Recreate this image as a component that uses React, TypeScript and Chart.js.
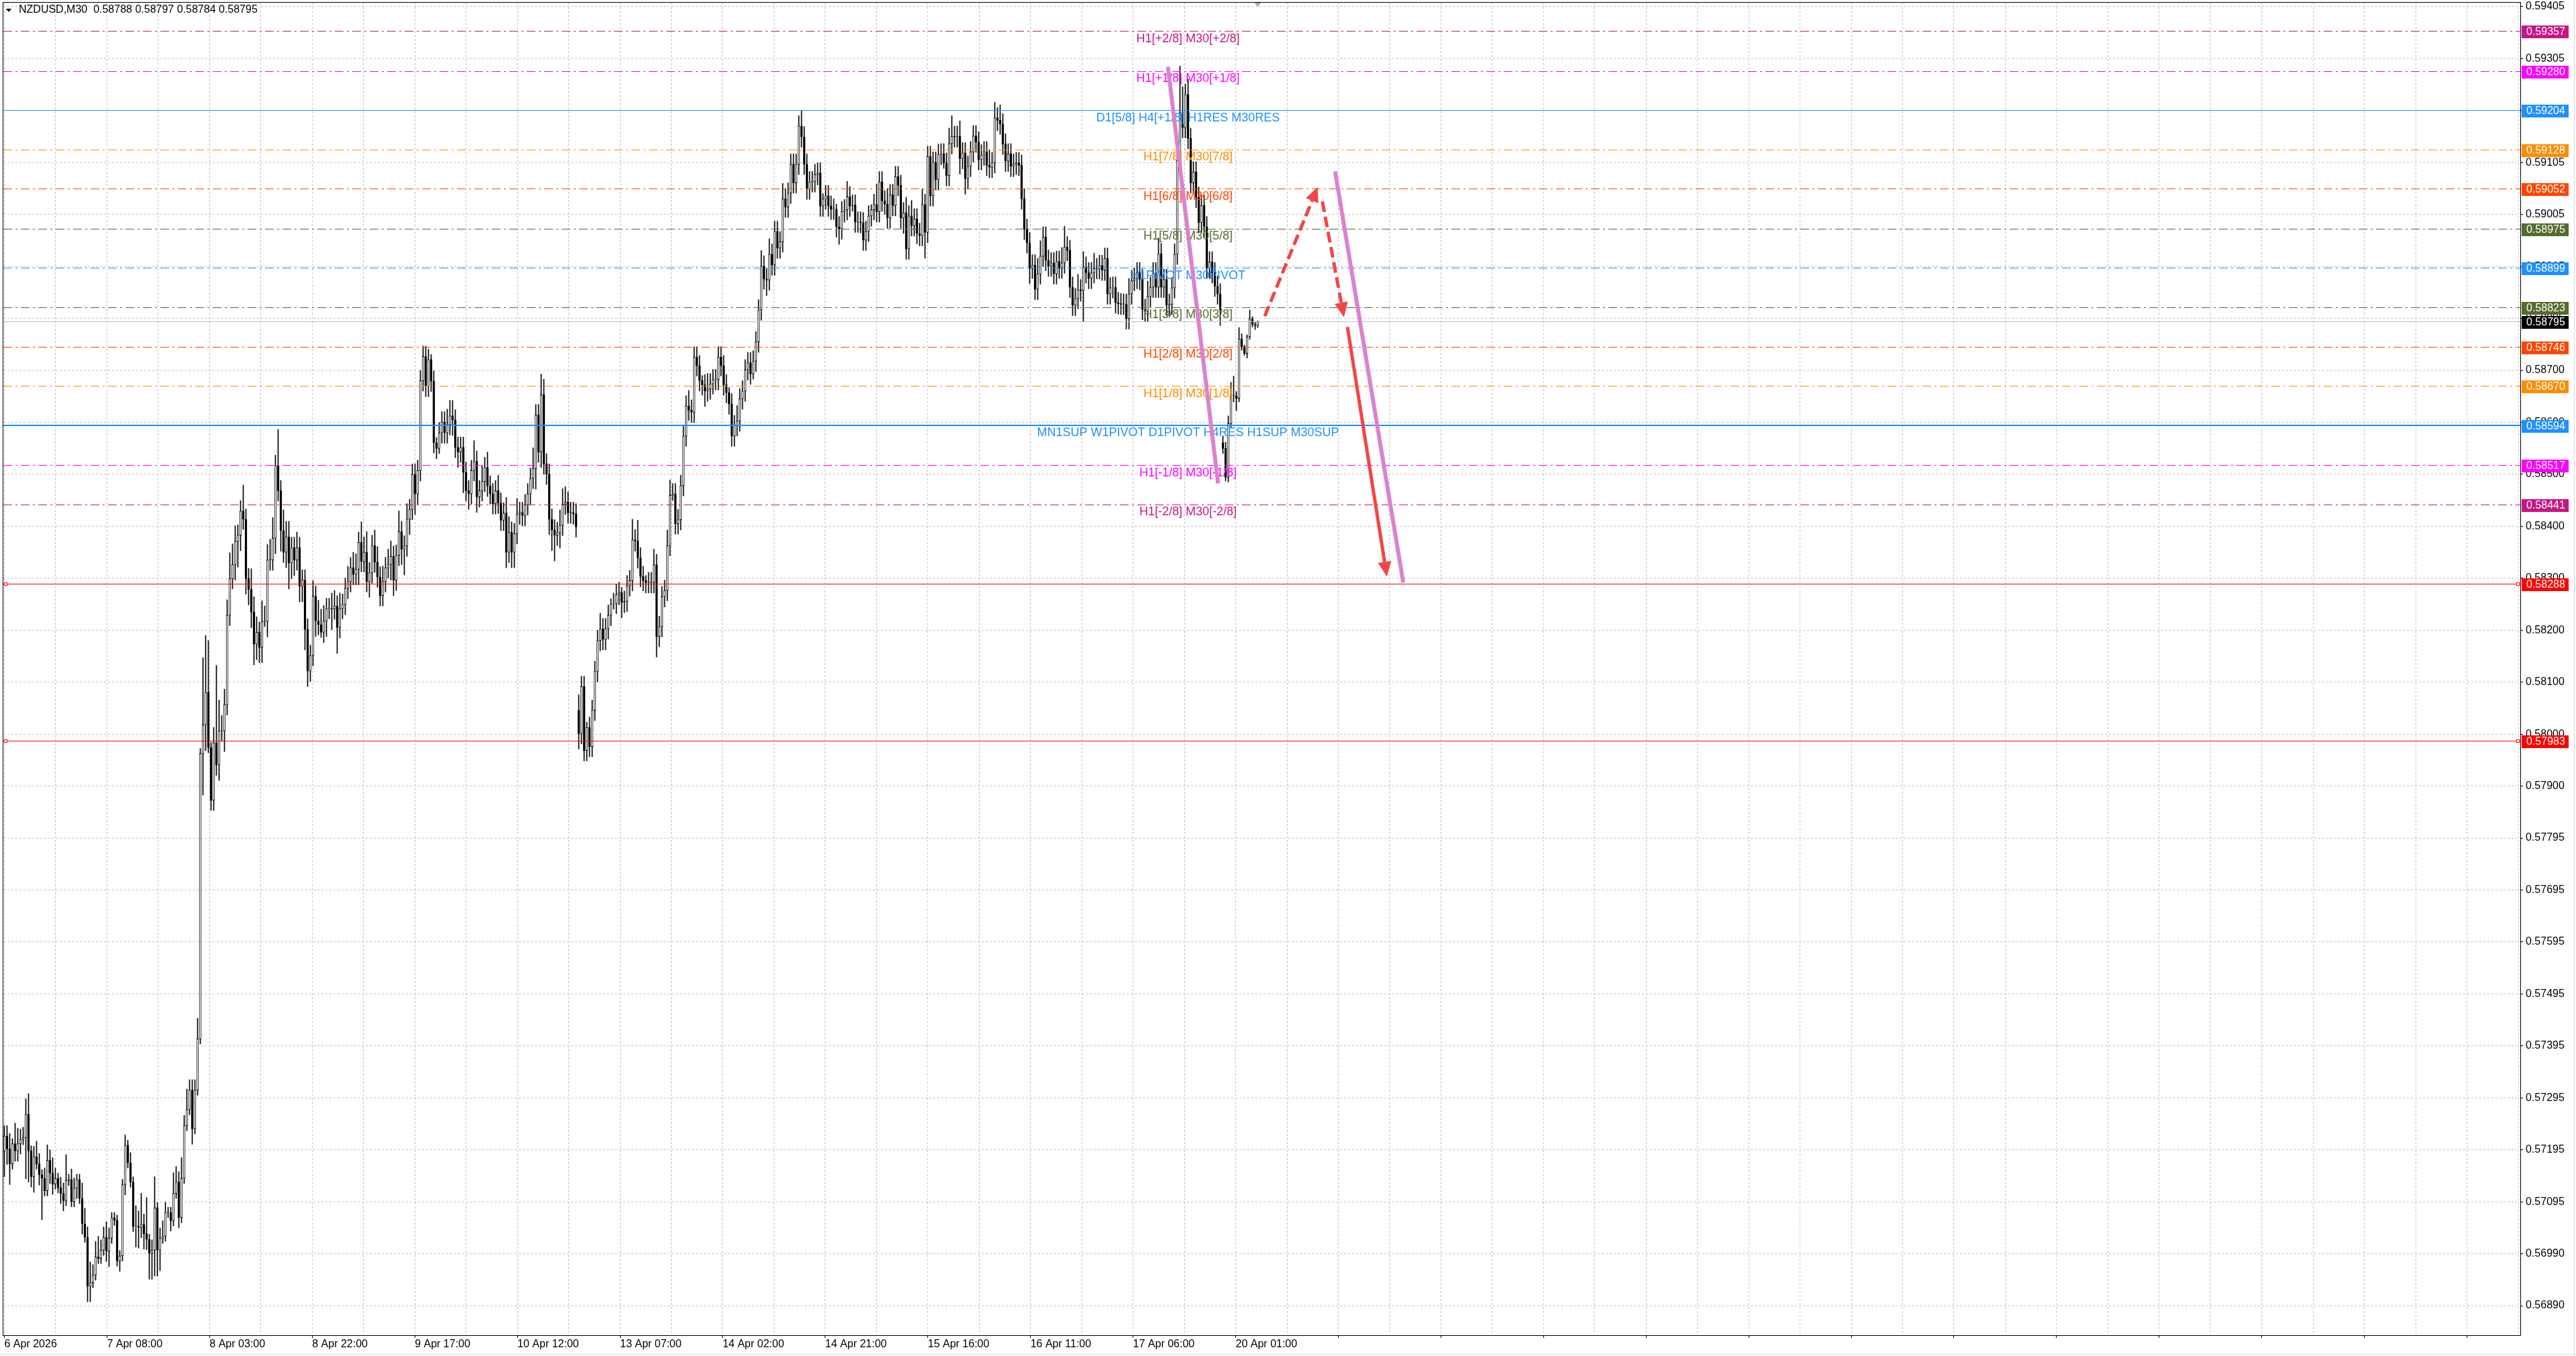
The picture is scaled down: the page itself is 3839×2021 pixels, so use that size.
import React, { useEffect, useRef } from "react";
import { Chart, registerables } from "chart.js";
Chart.register(...registerables);

const FONT = '"Liberation Sans", Arial, sans-serif';

// ---------------- DATA ----------------
const headerText = "NZDUSD,M30  0.58788 0.58797 0.58784 0.58795";
const xTickLabels = ["6 Apr 2026", "7 Apr 08:00", "8 Apr 03:00", "8 Apr 22:00", "9 Apr 17:00", "10 Apr 12:00", "13 Apr 07:00", "14 Apr 02:00", "14 Apr 21:00", "15 Apr 16:00", "16 Apr 11:00", "17 Apr 06:00", "20 Apr 01:00"];
const yTickLabels = ["0.59405", "0.59305", "0.59205", "0.59105", "0.59005", "0.58905", "0.58805", "0.58700", "0.58600", "0.58500", "0.58400", "0.58300", "0.58200", "0.58100", "0.58000", "0.57900", "0.57795", "0.57695", "0.57595", "0.57495", "0.57395", "0.57295", "0.57195", "0.57095", "0.56990", "0.56890"];

// prices in points above 0.50000 (1 point = 0.00001), wicks in pips (0.0001)
const week1Open = 7190;
const week1Closes = [
  7219, 7194, 7165, 7204, 7190, 7204, 7212, 7216, 7261, 7190,
  7140, 7179, 7165, 7144, 7137, 7113, 7172, 7147, 7126, 7137,
  7119, 7108, 7094, 7133, 7135, 7092, 7118, 7135, 7098, 7049,
  7023, 6928, 6935, 6950, 6985, 6982, 6998, 7023, 6996, 7021,
  7061, 7056, 6977, 6987, 7125, 7201, 7167, 7130, 7044, 7044,
  7042, 7048, 7030, 7019, 6992, 6998, 7080, 6998, 7021, 7025,
  7071, 7071, 7055, 7108, 7130, 7061, 7137, 7239, 7270, 7308,
  7233, 7308, 7407, 7959, 8015, 8078, 7971, 7869, 7980, 7937,
  8003, 8003, 8054, 8227, 8298, 8325, 8370, 8382, 8429, 8413,
  8298, 8277, 8233, 8171, 8194, 8165, 8215, 8215, 8334, 8334,
  8376, 8517, 8468, 8391, 8349, 8379, 8328, 8358, 8334, 8358,
  8283, 8295, 8200, 8119, 8149, 8264, 8216, 8209, 8194, 8216,
  8240, 8240, 8239, 8245, 8203, 8240, 8248, 8279, 8292, 8319,
  8306, 8316, 8368, 8331, 8349, 8292, 8309, 8362, 8330, 8301,
  8265, 8292, 8319, 8325, 8341, 8295, 8343, 8389, 8355, 8361,
  8413, 8432, 8500, 8462, 8507, 8681, 8728, 8670, 8722, 8680,
  8561, 8550, 8580, 8601, 8580, 8596, 8613, 8605, 8552, 8543,
  8552, 8504, 8468, 8462, 8507, 8525, 8456, 8468, 8486, 8513,
  8477, 8462, 8443, 8468, 8444, 8411, 8425, 8349, 8388, 8349,
  8385, 8423, 8426, 8420, 8441, 8462, 8492, 8511, 8615, 8543,
  8654, 8520, 8500, 8413, 8392, 8382, 8387, 8401, 8442, 8446,
  8425, 8426, 8423, 8398,
];
const week1WickUp = [
  2, 2, 3, 1, 4, 3, 2, 2, 3, 4, 1, 2, 3, 2, 1, 2, 3, 2, 3, 2,
  1, 2, 2, 5, 1, 2, 2, 1, 1, 3, 3, 2, 4, 2, 3, 4, 2, 2, 3, 2,
  1, 1, 1, 1, 1, 2, 1, 2, 1, 4, 3, 6, 2, 7, 1, 2, 6, 1, 2, 3,
  2, 1, 1, 4, 3, 2, 4, 2, 4, 2, 2, 2, 4, 1, 13, 11, 10, 1, 3, 15,
  6, 3, 3, 3, 5, 4, 3, 2, 2, 5, 2, 2, 4, 3, 3, 2, 4, 3, 3, 4,
  4, 2, 7, 2, 4, 3, 3, 2, 2, 3, 2, 2, 2, 2, 2, 3, 2, 4, 3, 3,
  2, 2, 3, 3, 2, 3, 2, 2, 3, 2, 3, 3, 2, 4, 3, 4, 2, 2, 3, 3,
  2, 3, 2, 3, 3, 2, 2, 4, 2, 2, 3, 2, 2, 2, 2, 2, 2, 2, 2, 1,
  2, 1, 2, 2, 2, 3, 3, 3, 2, 2, 2, 2, 2, 2, 2, 4, 2, 2, 3, 2,
  3, 2, 2, 2, 3, 2, 2, 3, 3, 2, 2, 3, 2, 2, 2, 2, 2, 4, 2, 2,
  4, 3, 2, 2, 2, 2, 2, 3, 3, 3, 2, 2, 2, 2,
];
const week1WickDown = [
  5, 3, 4, 1, 2, 2, 2, 1, 8, 6, 2, 3, 1, 2, 8, 1, 1, 2, 2, 1,
  1, 2, 2, 1, 1, 1, 1, 2, 1, 2, 1, 3, 3, 1, 1, 1, 1, 1, 2, 3,
  1, 1, 1, 2, 1, 2, 1, 1, 1, 4, 4, 2, 3, 2, 5, 5, 5, 5, 4, 1,
  1, 1, 2, 1, 1, 2, 1, 1, 1, 1, 3, 1, 1, 1, 8, 5, 1, 2, 2, 2,
  3, 2, 4, 2, 2, 2, 3, 5, 3, 2, 3, 3, 3, 4, 3, 3, 3, 1, 3, 2,
  2, 3, 2, 4, 2, 3, 5, 3, 3, 2, 3, 3, 4, 3, 2, 2, 3, 2, 1, 2,
  3, 2, 4, 2, 5, 2, 2, 2, 2, 2, 2, 2, 3, 2, 2, 2, 3, 2, 2, 2,
  2, 2, 2, 2, 3, 3, 2, 2, 3, 5, 2, 3, 2, 4, 2, 2, 2, 2, 2, 2,
  2, 2, 1, 2, 2, 2, 2, 3, 2, 3, 2, 4, 2, 3, 2, 2, 3, 2, 2, 2,
  2, 2, 2, 2, 2, 2, 2, 3, 2, 3, 3, 2, 2, 2, 2, 2, 2, 2, 4, 2,
  3, 2, 2, 3, 4, 5, 2, 3, 2, 2, 2, 2, 2, 2,
];

const week2Open = 8043;
const week2Closes = [
  7998, 8089, 7965, 8010, 7973, 8043, 8118, 8178, 8201, 8180,
  8201, 8227, 8249, 8250, 8267, 8271, 8252, 8254, 8284, 8294,
  8373, 8371, 8338, 8302, 8294, 8290, 8290, 8290, 8325, 8186,
  8205, 8263, 8275, 8362, 8459, 8462, 8404, 8412, 8478, 8574,
  8632, 8624, 8620, 8727, 8710, 8681, 8673, 8661, 8665, 8675,
  8683, 8683, 8727, 8710, 8673, 8658, 8636, 8574, 8594, 8603,
  8646, 8661, 8702, 8716, 8694, 8719, 8756, 8818, 8903, 8878,
  8876, 8926, 8905, 8970, 8938, 8950, 9033, 9017, 9044, 9100,
  9064, 9100, 9174, 9153, 9100, 9052, 9066, 9066, 9080, 9083,
  9019, 9033, 9039, 9019, 9013, 9013, 8979, 8975, 9008, 9012,
  9037, 9019, 9021, 8988, 8988, 8987, 8953, 8970, 9000, 9012,
  9022, 9008, 9066, 9029, 9023, 8996, 9041, 9020, 9076, 9059,
  8996, 9006, 8936, 9000, 8981, 8994, 8966, 8962, 9022, 8968,
  9115, 9039, 9104, 9070, 9119, 9120, 9102, 9078, 9140, 9154,
  9153, 9154, 9111, 9122, 9072, 9096, 9124, 9155, 9143, 9109,
  9118, 9124, 9098, 9094, 9103, 9190, 9185, 9178, 9139, 9106,
  9120, 9096, 9100, 9103, 9098, 9033, 8974, 8948, 8899, 8905,
  8858, 8888, 8922, 8959, 8914, 8903, 8909, 8888, 8912, 8899,
  8909, 8940, 8933, 8862, 8827, 8840, 8857, 8855, 8901, 8890,
  8879, 8890, 8898, 8898, 8904, 8895, 8918, 8849, 8861, 8862,
  8832, 8830, 8829, 8829, 8801, 8849, 8875, 8879, 8890, 8877,
  8819, 8815, 8844, 8862, 8890, 8862, 8927, 8862, 8877, 8827,
  8829, 8861, 8926, 9107, 9200, 9171, 9235, 9150, 9064, 9085,
  9036, 8987, 9020, 8979, 8899, 8911, 8890, 8864, 8849, 8818,
];
const week2WickUp = [
  3, 2, 2, 1, 2, 2, 2, 2, 3, 2, 2, 2, 1, 2, 2, 2, 1, 2, 2, 2,
  4, 2, 4, 2, 2, 1, 2, 2, 3, 2, 2, 2, 2, 3, 3, 2, 2, 2, 2, 2,
  2, 3, 2, 2, 2, 2, 1, 2, 3, 2, 2, 2, 2, 2, 2, 2, 1, 2, 2, 3,
  2, 2, 2, 2, 2, 2, 2, 2, 3, 2, 2, 3, 2, 2, 2, 2, 3, 2, 2, 2,
  2, 2, 2, 3, 2, 2, 2, 2, 2, 2, 2, 1, 2, 2, 2, 2, 1, 2, 2, 2,
  3, 2, 2, 2, 2, 2, 2, 2, 2, 1, 2, 4, 2, 2, 2, 3, 2, 2, 2, 2,
  2, 2, 3, 2, 3, 2, 2, 2, 3, 2, 2, 2, 2, 2, 2, 2, 2, 2, 3, 4,
  2, 2, 3, 2, 2, 2, 2, 2, 2, 2, 2, 2, 2, 3, 2, 3, 2, 3, 2, 2,
  2, 2, 2, 2, 2, 2, 2, 2, 2, 2, 2, 3, 3, 2, 2, 2, 2, 2, 2, 2,
  3, 4, 2, 2, 2, 2, 3, 2, 3, 2, 2, 2, 3, 2, 2, 2, 2, 2, 2, 2,
  2, 2, 2, 2, 2, 3, 2, 2, 2, 2, 2, 2, 3, 2, 2, 2, 3, 2, 2, 2,
  2, 2, 2, 2, 9, 5, 2, 3, 2, 2, 2, 2, 2, 2, 2, 2, 2, 2, 2, 2,
];
const week2WickDown = [
  3, 2, 2, 2, 2, 2, 2, 2, 2, 2, 2, 2, 2, 1, 2, 2, 3, 2, 2, 2,
  2, 2, 2, 2, 2, 2, 2, 2, 2, 4, 2, 2, 2, 2, 2, 1, 2, 2, 2, 2,
  2, 2, 2, 2, 2, 2, 2, 3, 2, 2, 2, 2, 2, 2, 2, 2, 2, 2, 2, 2,
  2, 2, 2, 2, 2, 1, 2, 2, 2, 2, 3, 2, 2, 2, 2, 2, 2, 2, 2, 2,
  2, 2, 2, 2, 2, 2, 2, 2, 2, 2, 2, 2, 2, 2, 2, 2, 2, 3, 2, 2,
  2, 2, 1, 2, 2, 2, 2, 2, 2, 2, 2, 2, 2, 2, 2, 2, 2, 2, 2, 2,
  2, 3, 2, 2, 2, 2, 2, 2, 2, 5, 2, 2, 2, 2, 2, 2, 1, 2, 2, 2,
  2, 2, 3, 2, 3, 2, 2, 2, 2, 2, 2, 2, 2, 2, 2, 2, 2, 2, 2, 2,
  2, 2, 2, 2, 2, 2, 2, 2, 3, 2, 2, 2, 2, 2, 2, 2, 2, 2, 2, 2,
  2, 2, 2, 2, 2, 2, 2, 2, 6, 2, 2, 2, 2, 2, 2, 2, 2, 2, 2, 2,
  2, 2, 2, 2, 2, 2, 2, 2, 2, 2, 2, 2, 2, 2, 2, 2, 2, 2, 2, 2,
  2, 2, 2, 2, 2, 2, 2, 2, 2, 2, 2, 2, 2, 2, 2, 2, 2, 2, 2, 3,
];

const week3Open = 8561;
const week3Closes = [8550, 8494, 8598, 8652, 8652, 8647, 8762, 8747, 8734, 8766, 8801, 8790, 8788, 8795];
const week3WickUp = [1.3, 1.2, 1.5, 2.6, 3.8, 0.8, 2.2, 1, 0.3, 0.4, 1.7, 0.4, 0.5, 0.2];
const week3WickDown = [1, 0.7, 0.9, 0.8, 1.2, 2.4, 0.7, 0.7, 0.4, 0.9, 0.5, 0.5, 0.8, 0.4];

// horizontal levels
const levelPrices = [0.59357, 0.5928, 0.59204, 0.59128, 0.59052, 0.58975, 0.58899, 0.58823, 0.58746, 0.5867, 0.58594, 0.58517, 0.58441];
const levelNames = [
  "H1[+2/8] M30[+2/8]", "H1[+1/8] M30[+1/8]", "D1[5/8] H4[+1/8] H1RES M30RES", "H1[7/8] M30[7/8]",
  "H1[6/8] M30[6/8]", "H1[5/8] M30[5/8]", "H1PIVOT M30PIVOT", "H1[3/8] M30[3/8]", "H1[2/8] M30[2/8]",
  "H1[1/8] M30[1/8]", "MN1SUP W1PIVOT D1PIVOT H4RES H1SUP M30SUP", "H1[-1/8] M30[-1/8]", "H1[-2/8] M30[-2/8]",
];
const redLinePrices = [0.58288, 0.57983];
const currentPrice = 0.58795;

// drawn annotations: [bar index, price]
const pinkLine1 = [[433.5, 0.59289], [452.2, 0.58482]];
const pinkLine2 = [[495.8, 0.59086], [521.2, 0.5829]];
const dashedUpArrow = [[469.6, 0.58806], [489.3, 0.59056]];
const dashedDownArrow = [[491.05, 0.59028], [499.1, 0.58804]];
const solidDownArrow = [[500.4, 0.58785], [515.1, 0.58302]];

// ---------------- STYLE ----------------
const levelColors = ["#C71585", "#FF00FF", "#1E90FF", "#FF8C00", "#FF4500", "#556B2F", "#1E90FF", "#556B2F", "#FF4500", "#FF8C00", "#1E90FF", "#FF00FF", "#C71585"];
const levelSolid = [false, false, true, false, false, false, false, false, false, false, true, false, false];
const levelWidth = [1, 1, 1, 1, 1, 1, 1, 1, 1, 1, 2, 1, 1];
const DASHDOT = [13, 5, 3, 5];
const LEVEL_LABEL_X = 441;

const XMIN = -0.375;
const XMAX = 937.375;
const X_GRID_STEP = 19.115;
const PX_PER_UNIT = 76994;
const YMAX = 0.59405 + 6 / PX_PER_UNIT;
const YMIN = YMAX - 1986 / PX_PER_UNIT;
const Y_TICK_TOP = 0.59405;
const Y_TICK_STEP = 0.0010058;

const toPrice = (pts: number) => 0.5 + pts / 100000;

type Candle = { o: number; h: number; l: number; c: number };
function buildCandles(): Candle[] {
  const weeks = [
    { open: week1Open, closes: week1Closes, up: week1WickUp, dn: week1WickDown },
    { open: week2Open, closes: week2Closes, up: week2WickUp, dn: week2WickDown },
    { open: week3Open, closes: week3Closes, up: week3WickUp, dn: week3WickDown },
  ];
  const out: Candle[] = [];
  weeks.forEach((w) => {
    w.closes.forEach((c, j) => {
      const o = j === 0 ? w.open : w.closes[j - 1];
      const h = Math.max(o, c) + (w.up[j] ?? 2) * 10;
      const l = Math.min(o, c) - (w.dn[j] ?? 2) * 10;
      out.push({ o, h, l, c });
    });
  });
  return out;
}

function drawArrow(ctx: CanvasRenderingContext2D, x1: number, y1: number, x2: number, y2: number, dashed: boolean, color: string) {
  const ang = Math.atan2(y2 - y1, x2 - x1);
  const hl = 22, hw = 10;
  const cs = Math.cos(ang), sn = Math.sin(ang);
  const bx = x2 - hl * cs, by = y2 - hl * sn;
  ctx.strokeStyle = color;
  ctx.fillStyle = color;
  ctx.lineWidth = 5;
  ctx.lineCap = "butt";
  ctx.setLineDash(dashed ? [16, 7] : []);
  ctx.beginPath();
  ctx.moveTo(x1, y1);
  ctx.lineTo(bx, by);
  ctx.stroke();
  ctx.setLineDash([]);
  ctx.beginPath();
  ctx.moveTo(x2, y2);
  ctx.lineTo(bx + hw * sn, by - hw * cs);
  ctx.lineTo(bx - hw * sn, by + hw * cs);
  ctx.closePath();
  ctx.fill();
}

const overlayPlugin = {
  id: "mt4overlay",
  afterDatasetsDraw(chart: any) {
    const { ctx, chartArea: a } = chart;
    const xs = chart.scales.x, ys = chart.scales.y;
    ctx.save();
    ctx.beginPath();
    ctx.rect(a.left, a.top, a.right - a.left, a.bottom - a.top);
    ctx.clip();
    const hline = (p: number, color: string, width: number, dash: number[]) => {
      let py = ys.getPixelForValue(p);
      py = width % 2 === 1 ? Math.round(py - 0.5) + 0.5 : Math.round(py);
      ctx.beginPath();
      ctx.setLineDash(dash);
      ctx.strokeStyle = color;
      ctx.lineWidth = width;
      ctx.moveTo(a.left, py);
      ctx.lineTo(a.right, py);
      ctx.stroke();
    };
    hline(currentPrice, "#C0C0C0", 1, []);
    redLinePrices.forEach((p) => hline(p, "#FF0000", 1, []));
    levelPrices.forEach((p, i) => hline(p, levelColors[i], levelWidth[i], levelSolid[i] ? [] : DASHDOT));
    ctx.setLineDash([]);

    // level texts
    ctx.font = `18px ${FONT}`;
    ctx.textAlign = "center";
    ctx.textBaseline = "middle";
    const lx = xs.getPixelForValue(LEVEL_LABEL_X);
    levelPrices.forEach((p, i) => {
      ctx.fillStyle = levelColors[i];
      ctx.fillText(levelNames[i], lx, ys.getPixelForValue(p) + 11);
    });

    // pink trend lines
    ctx.strokeStyle = "#DB82CF";
    ctx.lineWidth = 6;
    ctx.lineCap = "butt";
    [pinkLine1, pinkLine2].forEach((ln) => {
      ctx.beginPath();
      ctx.moveTo(xs.getPixelForValue(ln[0][0]), ys.getPixelForValue(ln[0][1]));
      ctx.lineTo(xs.getPixelForValue(ln[1][0]), ys.getPixelForValue(ln[1][1]));
      ctx.stroke();
    });

    // red arrows
    const red = "#F24545";
    const arr = (ln: number[][], dashed: boolean) =>
      drawArrow(ctx, xs.getPixelForValue(ln[0][0]), ys.getPixelForValue(ln[0][1]), xs.getPixelForValue(ln[1][0]), ys.getPixelForValue(ln[1][1]), dashed, red);
    arr(dashedUpArrow, true);
    arr(dashedDownArrow, true);
    arr(solidDownArrow, false);
    ctx.restore();
  },
  afterDraw(chart: any) {
    const { ctx, chartArea: a } = chart;
    const xs = chart.scales.x, ys = chart.scales.y;
    ctx.save();
    // frame
    ctx.strokeStyle = "#000";
    ctx.lineWidth = 1;
    ctx.setLineDash([]);
    ctx.strokeRect(a.left - 0.5, a.top - 0.5, a.right - a.left + 1, a.bottom - a.top + 1);

    // window edge
    ctx.strokeStyle = "#D8D8D8";
    ctx.beginPath();
    ctx.moveTo(3836.5, 0);
    ctx.lineTo(3836.5, 2021);
    ctx.moveTo(0, 2018.5);
    ctx.lineTo(3839, 2018.5);
    ctx.stroke();

    // anchors on red lines
    redLinePrices.forEach((p) => {
      const py = Math.round(ys.getPixelForValue(p) - 0.5) + 0.5;
      ctx.fillStyle = "#fff";
      ctx.strokeStyle = "#FF0000";
      [a.left + 1.5, a.right - 5.5].forEach((x0) => {
        ctx.fillRect(x0, py - 2, 4, 4);
        ctx.strokeRect(x0, py - 2, 4, 4);
      });
    });

    // price tags
    const tags: [number, string][] = levelPrices.map((p, i) => [p, levelColors[i]] as [number, string]);
    redLinePrices.forEach((p) => tags.push([p, "#FF0000"]));
    tags.push([currentPrice, "#000000"]);
    ctx.font = `16px ${FONT}`;
    ctx.textAlign = "left";
    ctx.textBaseline = "middle";
    tags.forEach(([p, col]) => {
      const py = ys.getPixelForValue(p) + 1;
      const top = Math.round(py - 9.5);
      ctx.fillStyle = col;
      ctx.fillRect(a.right + 2, top, 70, 19);
      ctx.fillStyle = "#fff";
      ctx.fillText(p.toFixed(5), a.right + 9, top + 10);
    });

    // header
    ctx.fillStyle = "#000";
    ctx.beginPath();
    ctx.moveTo(9, 13);
    ctx.lineTo(17, 13);
    ctx.lineTo(13, 18);
    ctx.closePath();
    ctx.fill();
    ctx.font = `16px ${FONT}`;
    ctx.textAlign = "left";
    ctx.textBaseline = "middle";
    ctx.fillText(headerText, 28, 15);

    // chart shift marker
    const sx = xs.getPixelForValue(week1Closes.length + week2Closes.length + week3Closes.length - 1);
    ctx.fillStyle = "#A8A8A8";
    ctx.beginPath();
    ctx.moveTo(sx - 5, a.top);
    ctx.lineTo(sx + 5, a.top);
    ctx.lineTo(sx, a.top + 6);
    ctx.closePath();
    ctx.fill();
    ctx.restore();
  },
};

export default function App() {
  const ref = useRef<HTMLCanvasElement>(null);
  useEffect(() => {
    document.body.style.margin = "0";
    const candles = buildCandles();
    const bodies = candles.map((k, i) => ({ x: i, y: [toPrice(k.o), toPrice(k.c)] }));
    const wicks = candles.map((k, i) => ({ x: i, y: [toPrice(k.l), toPrice(k.h)] }));
    const bodyColors = candles.map((k) => (k.c >= k.o ? "#FFFFFF" : "#000000"));

    const chart = new Chart(ref.current as HTMLCanvasElement, {
      type: "bar",
      data: {
        datasets: [
          {
            label: "body",
            data: bodies as any,
            backgroundColor: bodyColors,
            borderColor: "#000000",
            borderWidth: 1,
            borderSkipped: false,
            barThickness: 3,
            minBarLength: 1,
            grouped: false,
            order: 0,
          } as any,
          {
            label: "wick",
            data: wicks as any,
            backgroundColor: "#000000",
            borderWidth: 0,
            barThickness: 1,
            grouped: false,
            order: 1,
          } as any,
        ],
      },
      options: {
        responsive: false,
        devicePixelRatio: 1,
        animation: false,
        events: [],
        layout: { padding: { left: 5, top: 4, right: 0, bottom: 0 }, autoPadding: false } as any,
        plugins: { legend: { display: false }, tooltip: { enabled: false } },
        scales: {
          x: {
            type: "linear",
            position: "bottom",
            min: XMIN,
            max: XMAX,
            offset: false,
            grid: {
              color: "#C0C0C0",
              lineWidth: 1,
              offset: false,
              drawTicks: true,
              tickLength: 4,
              tickColor: (c: any) => (c.index % 2 === 0 ? "#000000" : "rgba(0,0,0,0)"),
            },
            border: { display: false, dash: [3, 3] },
            ticks: {
              autoSkip: false,
              maxRotation: 0,
              minRotation: 0,
              align: "start",
              padding: 0,
              color: "#000000",
              font: { family: FONT, size: 16 },
              callback: (_v: any, i: number) => (i % 2 === 0 ? xTickLabels[i / 2] ?? "" : ""),
            },
            afterBuildTicks: (s: any) => {
              const t = [];
              for (let j = 0; j * X_GRID_STEP <= XMAX; j++) t.push({ value: j * X_GRID_STEP });
              s.ticks = t;
            },
            afterFit: (s: any) => {
              s.height = 31;
              s.paddingLeft = 0;
              s.paddingRight = 0;
            },
          } as any,
          y: {
            type: "linear",
            position: "right",
            min: YMIN,
            max: YMAX,
            grid: { color: "#C0C0C0", lineWidth: 1, drawTicks: true, tickLength: 4, tickColor: "#000000" },
            border: { display: false, dash: [3, 3] },
            ticks: {
              autoSkip: false,
              padding: 4,
              color: "#000000",
              font: { family: FONT, size: 16 },
              callback: (v: any) => {
                const k = Math.round((Y_TICK_TOP - Number(v)) / Y_TICK_STEP);
                return yTickLabels[k] ?? "";
              },
            },
            afterBuildTicks: (s: any) => {
              s.ticks = yTickLabels.map((_, k) => ({ value: Y_TICK_TOP - k * Y_TICK_STEP })).reverse();
            },
            afterFit: (s: any) => {
              s.width = 83;
              s.paddingTop = 0;
              s.paddingBottom = 0;
            },
          } as any,
        },
      },
      plugins: [overlayPlugin as any],
    });
    return () => chart.destroy();
  }, []);
  return (
    <div style={{ position: "fixed", left: 0, top: 0, width: 3839, height: 2021, background: "#fff" }}>
      <canvas ref={ref} width={3839} height={2021} style={{ display: "block", width: 3839, height: 2021 }} />
    </div>
  );
}
